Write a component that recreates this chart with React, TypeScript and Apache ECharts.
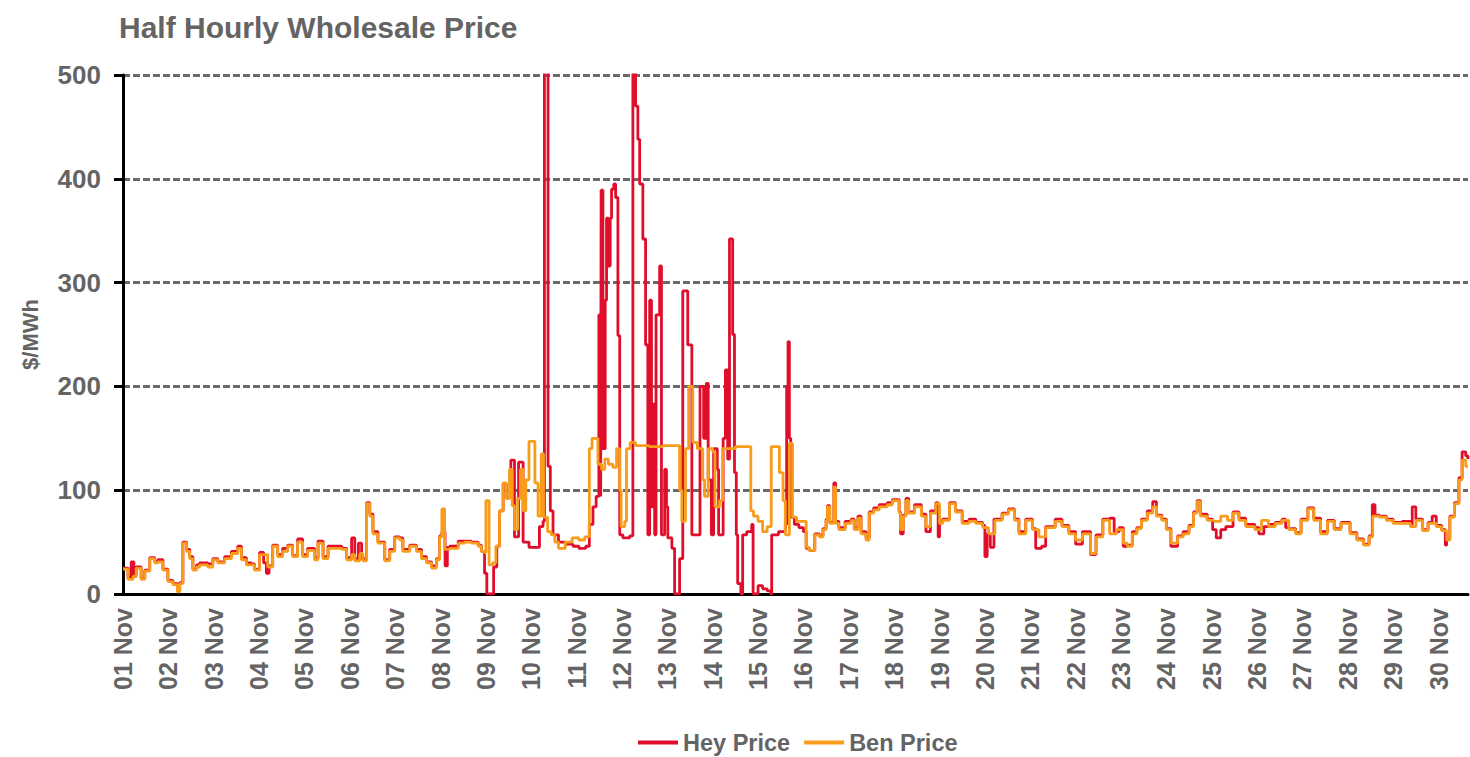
import React, { useEffect, useRef } from "react";
import * as echarts from "echarts";

// x = days elapsed since 01 Nov 00:00, y = $/MWh
const dayLabels = [
  "01 Nov", "02 Nov", "03 Nov", "04 Nov", "05 Nov", "06 Nov", "07 Nov", "08 Nov", "09 Nov", "10 Nov",
  "11 Nov", "12 Nov", "13 Nov", "14 Nov", "15 Nov", "16 Nov", "17 Nov", "18 Nov", "19 Nov", "20 Nov",
  "21 Nov", "22 Nov", "23 Nov", "24 Nov", "25 Nov", "26 Nov", "27 Nov", "28 Nov", "29 Nov", "30 Nov",
];

const yTicks = [0, 100, 200, 300, 400, 500];

const heyPrice: [number, number][] = [
  [0, 25], [0.11, 16], [0.18, 31], [0.24, 17], [0.29, 26], [0.4, 15], [0.48, 23], [0.59, 35], [0.7, 31], [0.77, 33],
  [0.88, 24], [0.99, 13], [1.1, 10], [1.2, 3], [1.25, 11], [1.32, 50], [1.4, 43], [1.47, 36], [1.54, 24], [1.62, 28],
  [1.69, 30], [1.87, 29], [1.98, 34], [2.09, 31], [2.24, 36], [2.39, 41], [2.53, 46], [2.61, 35], [2.72, 30], [2.83, 29],
  [2.9, 24], [3.01, 40], [3.1, 30], [3.16, 20], [3.22, 27], [3.3, 47], [3.41, 38], [3.52, 44], [3.63, 47], [3.74, 37],
  [3.85, 53], [3.96, 38], [4.07, 44], [4.22, 35], [4.3, 51], [4.41, 36], [4.52, 46], [4.67, 46], [4.82, 44], [4.93, 35],
  [5.04, 54], [5.11, 34], [5.19, 49], [5.26, 34], [5.37, 88], [5.44, 77], [5.51, 60], [5.62, 50], [5.77, 33], [5.88, 43],
  [5.99, 55], [6.1, 54], [6.17, 43], [6.32, 47], [6.47, 43], [6.58, 36], [6.69, 31], [6.8, 27], [6.91, 34], [6.98, 56],
  [7.03, 60], [7.1, 27], [7.15, 45], [7.2, 46], [7.39, 51], [7.53, 51], [7.68, 50], [7.83, 47], [7.9, 41], [7.97, 20],
  [8.02, 0], [8.13, 0], [8.17, 26], [8.24, 46], [8.3, 80], [8.38, 106], [8.45, 93], [8.55, 129], [8.63, 55], [8.72, 127],
  [8.82, 50], [8.95, 45], [9.1, 45], [9.18, 65], [9.26, 70], [9.29, 560], [9.37, 123], [9.42, 80], [9.48, 57], [9.6, 50],
  [9.75, 48], [9.92, 46], [10.05, 44], [10.2, 46], [10.28, 67], [10.36, 84], [10.43, 94], [10.49, 269], [10.53, 94], [10.54, 389],
  [10.58, 140], [10.63, 283], [10.66, 362], [10.7, 316], [10.74, 362], [10.77, 390], [10.82, 395], [10.86, 382], [10.91, 249], [10.95, 57],
  [11.02, 54], [11.17, 56], [11.24, 560], [11.3, 470], [11.35, 438], [11.39, 395], [11.46, 342], [11.52, 240], [11.57, 57], [11.61, 283],
  [11.65, 84], [11.68, 183], [11.72, 57], [11.75, 269], [11.83, 316], [11.87, 57], [11.94, 120], [11.98, 84], [12.01, 54], [12.1, 44],
  [12.16, 0], [12.27, 34], [12.34, 292], [12.45, 240], [12.54, 57], [12.7, 57], [12.72, 200], [12.8, 150], [12.86, 203], [12.9, 110],
  [12.97, 57], [13.02, 140], [13.1, 120], [13.13, 57], [13.23, 150], [13.28, 216], [13.33, 130], [13.37, 342], [13.44, 250], [13.48, 117],
  [13.52, 57], [13.55, 10], [13.62, 0], [13.66, 57], [13.75, 60], [13.86, 67], [13.89, 0], [14.0, 8], [14.1, 5], [14.2, 3],
  [14.28, 0], [14.3, 57], [14.45, 60], [14.6, 67], [14.63, 200], [14.66, 243], [14.69, 150], [14.72, 74], [14.8, 67], [14.9, 64],
  [15.0, 60], [15.06, 44], [15.13, 42], [15.25, 58], [15.35, 56], [15.43, 63], [15.5, 72], [15.53, 85], [15.58, 69], [15.67, 107],
  [15.71, 70], [15.78, 64], [15.92, 70], [16.05, 72], [16.12, 64], [16.2, 75], [16.27, 60], [16.38, 54], [16.45, 79], [16.55, 83],
  [16.67, 86], [16.85, 88], [16.96, 91], [17.11, 79], [17.14, 58], [17.2, 76], [17.26, 92], [17.32, 79], [17.45, 86], [17.6, 77],
  [17.7, 60], [17.8, 80], [17.92, 88], [17.97, 55], [18.0, 70], [18.07, 72], [18.22, 88], [18.35, 80], [18.5, 70], [18.65, 72],
  [18.8, 69], [18.95, 66], [19.0, 36], [19.05, 58], [19.12, 45], [19.2, 72], [19.38, 78], [19.52, 82], [19.65, 72], [19.75, 60],
  [19.9, 72], [20.05, 63], [20.12, 44], [20.25, 46], [20.34, 65], [20.55, 72], [20.7, 66], [20.85, 60], [21.0, 48], [21.15, 60],
  [21.33, 38], [21.45, 57], [21.6, 72], [21.75, 73], [21.85, 60], [21.96, 64], [22.05, 46], [22.14, 47], [22.25, 60], [22.35, 64],
  [22.45, 72], [22.58, 80], [22.7, 89], [22.78, 76], [22.9, 72], [23.0, 63], [23.1, 46], [23.25, 56], [23.37, 60], [23.5, 66],
  [23.6, 79], [23.68, 90], [23.75, 77], [23.9, 72], [24.02, 62], [24.1, 54], [24.2, 62], [24.31, 65], [24.47, 79], [24.6, 73],
  [24.75, 67], [24.95, 64], [25.04, 58], [25.15, 65], [25.25, 67], [25.4, 69], [25.55, 72], [25.63, 64], [25.7, 63], [25.85, 59],
  [25.97, 72], [26.12, 83], [26.25, 73], [26.4, 60], [26.55, 71], [26.7, 63], [26.85, 69], [27.05, 59], [27.2, 53], [27.35, 48],
  [27.47, 56], [27.54, 86], [27.6, 76], [27.7, 75], [27.85, 72], [28.0, 69], [28.2, 70], [28.38, 67], [28.42, 84], [28.5, 72],
  [28.65, 62], [28.77, 69], [28.86, 75], [28.95, 66], [29.07, 62], [29.15, 47], [29.18, 53], [29.25, 75], [29.35, 88], [29.45, 112],
  [29.52, 137], [29.6, 133], [29.65, 130],
];

const benPrice: [number, number][] = [
  [0, 24], [0.11, 14], [0.22, 17], [0.29, 25], [0.4, 14], [0.48, 22], [0.59, 34], [0.7, 30], [0.77, 31], [0.88, 23],
  [0.99, 12], [1.1, 9], [1.2, 2], [1.25, 10], [1.32, 49], [1.4, 41], [1.47, 34], [1.54, 23], [1.62, 26], [1.69, 28],
  [1.87, 26], [1.98, 33], [2.09, 30], [2.24, 34], [2.39, 39], [2.53, 44], [2.61, 33], [2.72, 28], [2.83, 28], [2.9, 23],
  [3.01, 38], [3.12, 38], [3.19, 26], [3.3, 46], [3.41, 36], [3.52, 41], [3.63, 46], [3.74, 36], [3.85, 50], [3.96, 36],
  [4.07, 42], [4.22, 33], [4.3, 49], [4.41, 34], [4.52, 44], [4.67, 44], [4.82, 43], [4.93, 33], [5.04, 38], [5.11, 32],
  [5.22, 39], [5.29, 32], [5.37, 87], [5.44, 75], [5.51, 58], [5.62, 49], [5.77, 32], [5.88, 41], [5.99, 54], [6.1, 52],
  [6.17, 41], [6.32, 46], [6.47, 41], [6.58, 34], [6.69, 30], [6.8, 25], [6.91, 33], [6.98, 55], [7.03, 82], [7.09, 43],
  [7.2, 44], [7.39, 49], [7.53, 50], [7.68, 49], [7.83, 46], [7.9, 41], [7.97, 40], [8.0, 90], [8.07, 28], [8.15, 30],
  [8.22, 46], [8.3, 80], [8.38, 107], [8.45, 92], [8.52, 120], [8.58, 85], [8.63, 62], [8.7, 92], [8.76, 120], [8.82, 80],
  [8.88, 110], [8.95, 147], [9.08, 107], [9.15, 75], [9.22, 135], [9.27, 74], [9.36, 60], [9.44, 57], [9.52, 50], [9.6, 44],
  [9.75, 50], [9.9, 54], [10.05, 52], [10.18, 55], [10.28, 140], [10.34, 150], [10.47, 125], [10.55, 120], [10.62, 130], [10.7, 125],
  [10.8, 122], [10.88, 140], [10.95, 100], [10.98, 65], [11.06, 70], [11.1, 140], [11.18, 146], [11.3, 143], [11.6, 142], [11.9, 143],
  [12.27, 100], [12.32, 70], [12.4, 140], [12.47, 200], [12.56, 146], [12.66, 140], [12.78, 110], [12.82, 94], [12.9, 140], [13.0, 137],
  [13.05, 84], [13.15, 90], [13.22, 140], [13.5, 142], [13.84, 80], [13.9, 75], [14.0, 70], [14.1, 60], [14.2, 65], [14.29, 142],
  [14.4, 142], [14.47, 117], [14.55, 90], [14.6, 57], [14.69, 145], [14.76, 74], [14.85, 70], [14.95, 70], [15.06, 45], [15.13, 42],
  [15.25, 57], [15.35, 55], [15.43, 62], [15.5, 71], [15.53, 84], [15.58, 68], [15.67, 103], [15.71, 68], [15.78, 62], [15.92, 68],
  [16.05, 71], [16.12, 62], [16.2, 73], [16.27, 58], [16.38, 52], [16.45, 78], [16.55, 81], [16.67, 84], [16.85, 86], [16.96, 90],
  [17.11, 78], [17.14, 62], [17.2, 75], [17.26, 90], [17.32, 78], [17.45, 84], [17.6, 75], [17.7, 65], [17.8, 78], [17.92, 87],
  [18.0, 68], [18.07, 71], [18.22, 87], [18.35, 79], [18.5, 68], [18.65, 70], [18.8, 68], [18.95, 64], [19.08, 58], [19.22, 71],
  [19.38, 77], [19.52, 81], [19.65, 71], [19.75, 58], [19.9, 71], [20.05, 62], [20.19, 55], [20.34, 64], [20.55, 70], [20.7, 65],
  [20.85, 58], [21.0, 52], [21.15, 58], [21.33, 39], [21.45, 55], [21.6, 71], [21.75, 58], [21.9, 62], [22.05, 49], [22.14, 46],
  [22.25, 58], [22.35, 63], [22.45, 71], [22.58, 78], [22.7, 84], [22.78, 75], [22.9, 71], [23.0, 62], [23.1, 49], [23.25, 55],
  [23.37, 58], [23.5, 65], [23.6, 78], [23.68, 89], [23.75, 75], [23.9, 71], [24.05, 70], [24.2, 75], [24.35, 71], [24.47, 78],
  [24.6, 71], [24.75, 65], [24.95, 62], [25.1, 71], [25.25, 65], [25.4, 68], [25.55, 71], [25.7, 62], [25.85, 58], [25.97, 71],
  [26.12, 82], [26.25, 71], [26.4, 58], [26.55, 70], [26.7, 62], [26.85, 68], [27.05, 58], [27.2, 52], [27.35, 47], [27.47, 55],
  [27.55, 75], [27.7, 74], [27.85, 71], [28.0, 68], [28.2, 68], [28.38, 65], [28.5, 71], [28.65, 61], [28.77, 68], [28.95, 65],
  [29.07, 61], [29.18, 52], [29.25, 74], [29.35, 87], [29.45, 110], [29.52, 129], [29.6, 123], [29.65, 123],
];

const FONT = '"Liberation Sans", Arial, Helvetica, sans-serif';
const GREY = "#646464";

export default function App() {
  const ref = useRef<HTMLDivElement>(null);

  useEffect(() => {
    if (!ref.current) return;
    const chart = echarts.init(ref.current, undefined, { renderer: "svg" });
    chart.setOption({
      animation: false,
      backgroundColor: "#ffffff",
      title: {
        text: "Half Hourly Wholesale Price",
        left: 114,
        top: 7,
        textStyle: { fontFamily: FONT, fontWeight: "bold", fontSize: 30, color: GREY },
      },
      legend: {
        data: ["Hey Price", "Ben Price"],
        left: 638,
        top: 730,
        icon: "rect",
        itemWidth: 40,
        itemHeight: 4,
        itemGap: 14,
        padding: 0,
        textStyle: { fontFamily: FONT, fontWeight: "bold", fontSize: 23.5, lineHeight: 25, color: GREY },
      },
      grid: { left: 123, right: 2, top: 75, bottom: 163 },
      xAxis: {
        type: "value",
        min: 0,
        max: 29.65,
        interval: 1,
        axisLine: { show: true, lineStyle: { color: "#000", width: 3 } },
        axisTick: { show: false },
        splitLine: { show: false },
        axisLabel: {
          rotate: 90,
          margin: 14,
          fontFamily: FONT,
          fontWeight: "bold",
          fontSize: 25,
          color: GREY,
          showMaxLabel: false,
          formatter: (v: number) => {
            const i = Math.round(v);
            return Math.abs(v - i) < 1e-6 && dayLabels[i] ? dayLabels[i] : "";
          },
        },
      },
      yAxis: {
        type: "value",
        min: yTicks[0],
        max: yTicks[yTicks.length - 1],
        interval: yTicks[1] - yTicks[0],
        name: "$/MWh",
        nameLocation: "middle",
        nameRotate: 90,
        nameGap: 82,
        nameTextStyle: { fontFamily: FONT, fontWeight: "bold", fontSize: 22, color: GREY },
        axisLine: { show: true, lineStyle: { color: "#000", width: 3 } },
        axisTick: { show: true, length: 9, lineStyle: { color: "#000", width: 3 } },
        axisLabel: {
          margin: 22,
          fontFamily: FONT,
          fontWeight: "bold",
          fontSize: 26,
          color: GREY,
        },
        splitLine: {
          show: true,
          lineStyle: { color: "#6a6a6a", width: 3, type: [7, 3] },
        },
      },
      series: [
        {
          name: "Hey Price",
          type: "line",
          step: "end",
          data: heyPrice,
          showSymbol: false,
          symbol: "none",
          color: "#e00d2b",
          lineStyle: { color: "#e00d2b", width: 2.8 },
          clip: true,
        },
        {
          name: "Ben Price",
          type: "line",
          step: "end",
          data: benPrice,
          showSymbol: false,
          symbol: "none",
          color: "#f89c1c",
          lineStyle: { color: "#f89c1c", width: 2.8 },
          clip: true,
        },
      ],
    });
    return () => chart.dispose();
  }, []);

  return (
    <div
      ref={ref}
      style={{ position: "fixed", left: 0, top: 0, width: 1470, height: 757, background: "#fff" }}
    />
  );
}
